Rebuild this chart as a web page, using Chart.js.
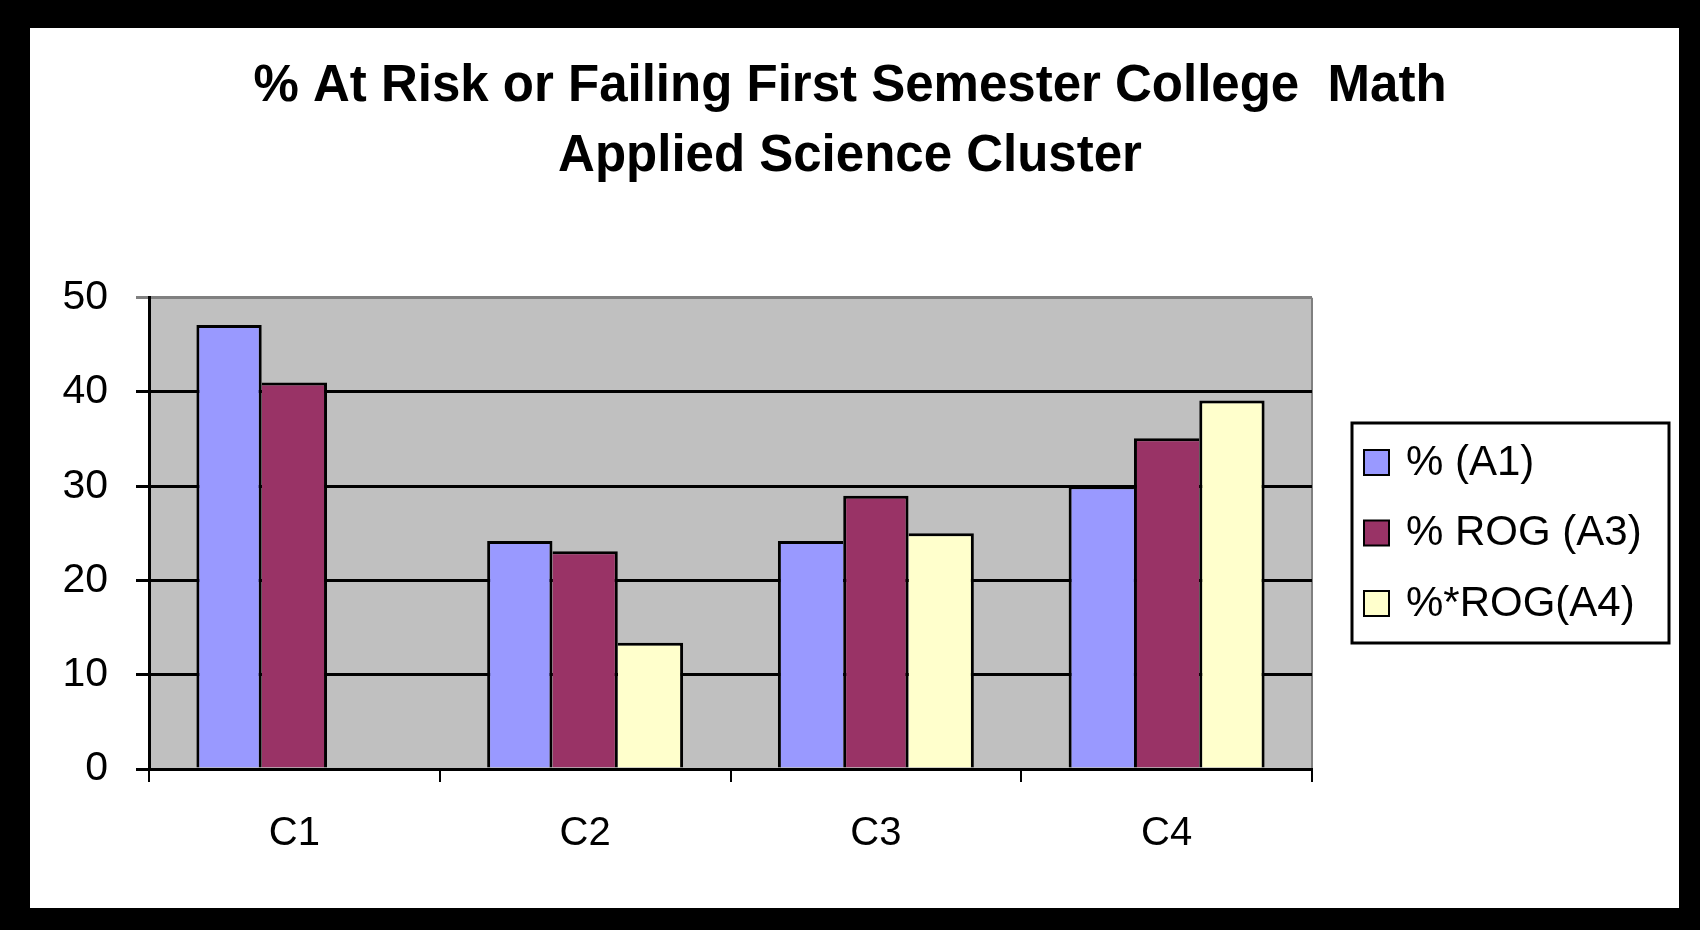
<!DOCTYPE html>
<html><head><meta charset="utf-8">
<script src="https://cdn.jsdelivr.net/npm/chart.js@4"></script>
<style>html,body{margin:0;padding:0;background:#000;}canvas{display:block;}</style>
</head><body>
<canvas id="c" width="1700" height="930"></canvas>
<script>
const categories = ['C1', 'C2', 'C3', 'C4'];
const seriesNames = ['% (A1)', '% ROG (A3)', '%*ROG(A4)'];
const seriesA1 = [47.1, 24.2, 24.2, 30.0];
const seriesA3 = [41.0, 23.1, 29.0, 35.1];
const seriesA4 = [null, 13.4, 25.0, 39.1];
const yTickValues = [0, 10, 20, 30, 40, 50];
const titleLines = ['% At Risk or Failing First Semester College  Math', 'Applied Science Cluster'];
const seriesColors = ['#9999FF', '#993366', '#FFFFCC'];

const FONT = "'Liberation Sans', Arial, sans-serif";

function edgeWidths(ctx) {
  const ds = ctx.chart.data.datasets;
  const i = ctx.datasetIndex, j = ctx.dataIndex;
  const v = ds[i].data[j];
  const prev = i > 0 ? ds[i - 1].data[j] : null;
  const next = i < ds.length - 1 ? ds[i + 1].data[j] : null;
  return {
    top: 3, bottom: 0,
    left: (prev != null && prev >= v) ? 0 : 3,
    right: (next != null && next > v) ? 0 : 3
  };
}

const framePlugin = {
  id: 'frame',
  beforeDraw(chart) {
    const c = chart.ctx;
    c.save();
    c.fillStyle = '#000';
    c.fillRect(0, 0, chart.width, chart.height);
    c.fillStyle = '#fff';
    c.fillRect(30, 28, 1649, 880);
    const a = chart.chartArea;
    c.fillStyle = '#C0C0C0';
    c.fillRect(a.left, a.top, a.right - a.left, a.bottom - a.top);
    c.strokeStyle = '#808080';
    c.lineWidth = 2;
    c.beginPath();
    c.moveTo(a.right, a.top);
    c.lineTo(a.right, a.bottom);
    c.stroke();
    c.restore();
  }
};

const legendPlugin = {
  id: 'boxLegend',
  afterDraw(chart) {
    const c = chart.ctx;
    const a = chart.chartArea;
    const bx = a.right + 40, by = 423, bw = 317, bh = 220;
    c.save();
    c.fillStyle = '#fff';
    c.fillRect(bx, by, bw, bh);
    c.strokeStyle = '#000';
    c.lineWidth = 3;
    c.strokeRect(bx, by, bw, bh);
    c.font = '42px ' + FONT;
    c.textBaseline = 'middle';
    c.textAlign = 'left';
    chart.data.datasets.forEach((ds, k) => {
      const cy = by + 39 + k * 70.5;
      c.fillStyle = ds.backgroundColor;
      c.fillRect(bx + 12, cy - 12, 25, 25);
      c.lineWidth = 2;
      c.strokeStyle = '#000';
      c.strokeRect(bx + 12, cy - 12, 25, 25);
      c.fillStyle = '#000';
      c.fillText(ds.label, bx + 54, cy + 1);
    });
    c.restore();
  }
};

const datasets = [seriesA1, seriesA3, seriesA4].map((vals, k) => ({
  label: seriesNames[k],
  data: vals,
  backgroundColor: seriesColors[k],
  borderColor: '#000',
  borderWidth: edgeWidths,
  borderSkipped: false,
  categoryPercentage: 0.674,
  barPercentage: 1.0,
  yAxisID: 'y'
}));

new Chart(document.getElementById('c'), {
  type: 'bar',
  data: { labels: categories, datasets },
  options: {
    responsive: false,
    animation: false,
    devicePixelRatio: 1,
    layout: { padding: 0 },
    plugins: {
      legend: { display: false },
      tooltip: { enabled: false },
      title: {
        display: true,
        fullSize: true,
        text: titleLines,
        color: '#000',
        font: { family: FONT, size: 51, weight: 'bold', lineHeight: 1.37 },
        padding: { top: 52, bottom: 106 }
      }
    },
    scales: {
      x: {
        offset: true,
        grid: { display: true, offset: true, drawOnChartArea: false, drawTicks: true, tickLength: 13, color: '#000', lineWidth: 2 },
        border: { display: true, color: '#000', width: 3 },
        ticks: { color: '#000', padding: 28, font: { family: FONT, size: 40 } },
        afterFit(scale) { scale.height = 161; }
      },
      y: {
        min: 0, max: 50,
        afterBuildTicks(scale) { scale.ticks = yTickValues.map(v => ({ value: v })); },
        grid: {
          color: (ctx) => (ctx.tick && ctx.tick.value === 50) ? '#808080' : '#000',
          lineWidth: 3,
          tickLength: 13,
          drawTicks: true
        },
        border: { display: true, color: '#000', width: 3 },
        ticks: { color: '#000', padding: 28, font: { family: FONT, size: 41 } },
        afterFit(scale) { scale.width = 149; }
      },
      legendSpace: {
        position: 'right',
        display: true,
        min: 0, max: 1,
        grid: { display: false, drawTicks: false },
        border: { display: false },
        ticks: { display: false },
        afterFit(scale) { scale.width = 388; }
      }
    }
  },
  plugins: [framePlugin, legendPlugin]
});
</script>
</body></html>
